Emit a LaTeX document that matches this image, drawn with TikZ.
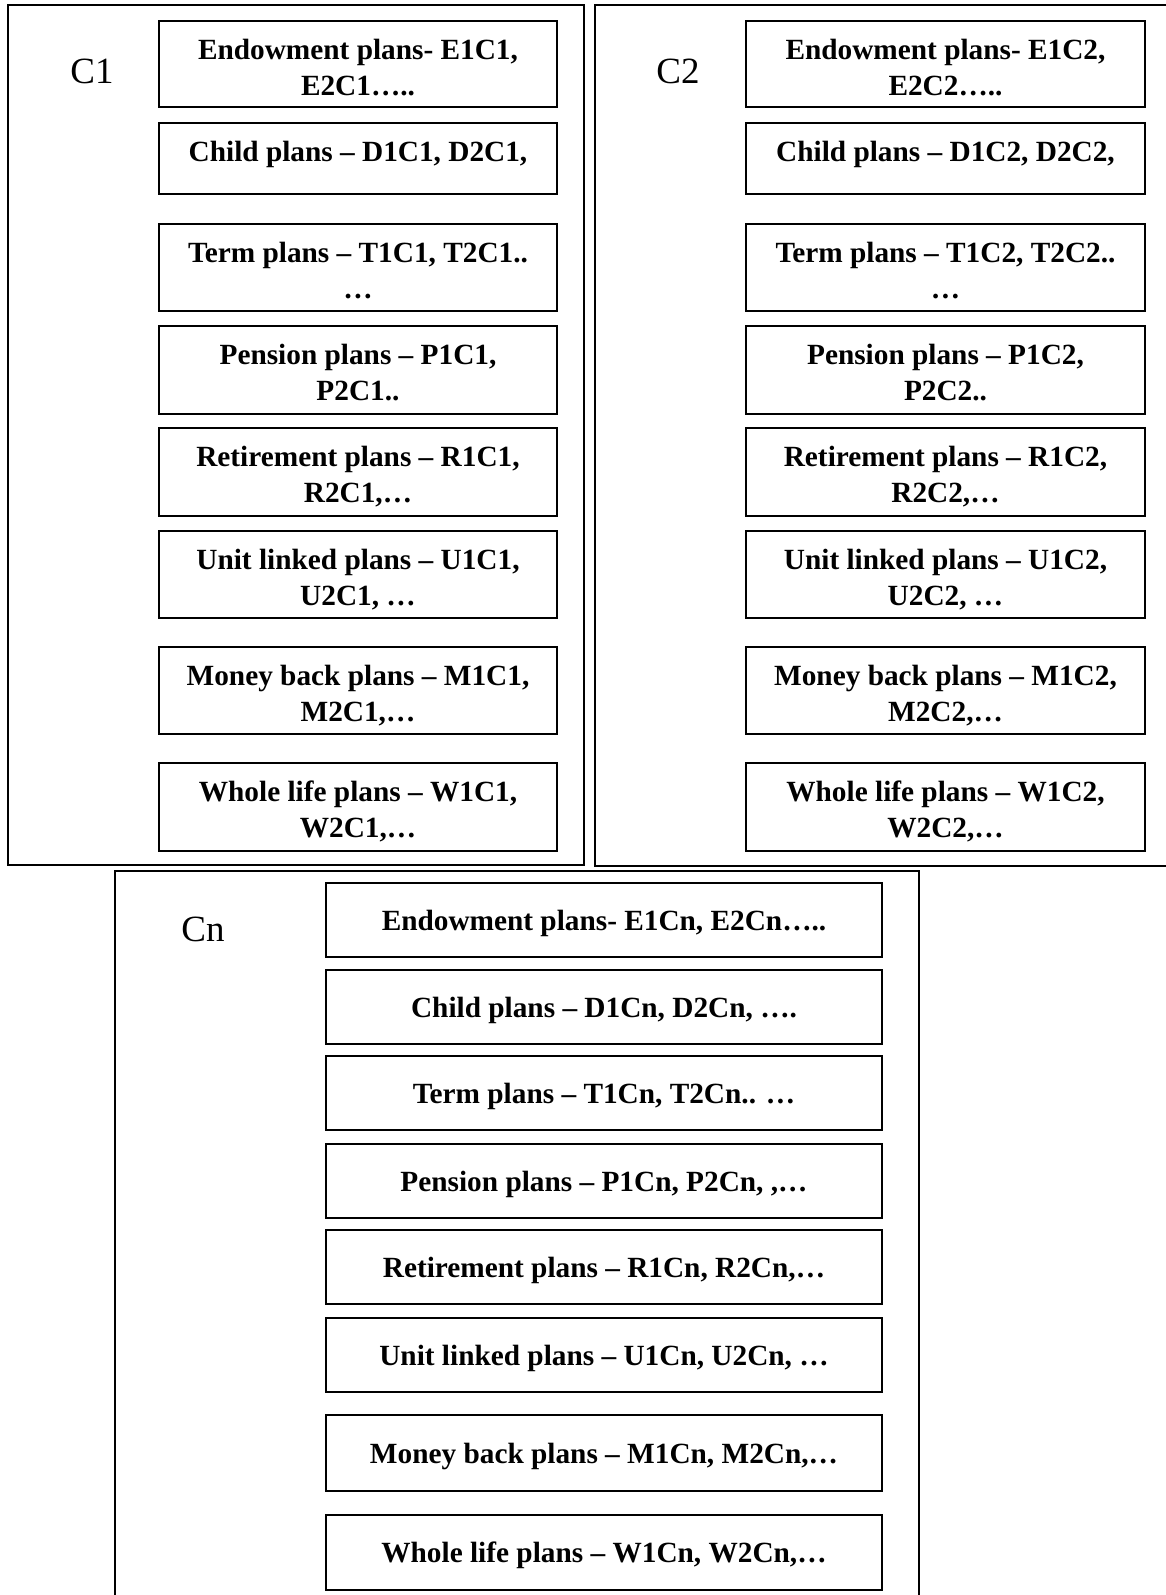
\documentclass[tikz,border=0pt]{standalone}
\usepackage{fontspec}
\setmainfont{Liberation Serif}
\usetikzlibrary{fit}
\tikzset{
  outerbox/.style={draw, line width=0.9pt, inner sep=0pt},
  planbox/.style={draw, line width=1pt, inner sep=0pt},
  plantext/.style={font=\fontsize{14.65pt}{18pt}\selectfont\bfseries, align=center, inner sep=0pt},
  grouplabel/.style={font=\fontsize{18.5pt}{22pt}\selectfont, inner sep=0pt}
}
% box with top-aligned text (C1, C2 columns)
\newcommand\pbx[6]{%
  \node[planbox, fit={(#2,#3) (#4,#5)}] (#1) {};
  \node[plantext, anchor=north] (#1t) at ([yshift=-9.4pt]#1.north) {#6};}
% box with centred single-line text (Cn column)
\newcommand\pbn[6]{%
  \node[planbox, fit={(#2,#3) (#4,#5)}] (#1) {};
  \node[plantext, anchor=base] (#1t) at ([yshift=-5pt]#1.center) {#6};}
\begin{document}
\begin{tikzpicture}[x=0.5pt,y=-0.5pt]
\useasboundingbox (0,0) rectangle (1166,1595);
\clip (0,0) rectangle (1166,1595);
% outer group boxes
\node[outerbox, fit={(8,5) (584,865)}] (G1) {};
\node[outerbox, fit={(595,5) (1180,866)}] (G2) {};
\node[outerbox, fit={(115,871) (919,1610)}] (Gn) {};
% labels
\node[grouplabel] (L1) at (92,71) {C1};
\node[grouplabel] (L2) at (678,71) {C2};
\node[grouplabel] (Ln) at (203,929) {Cn};
% C1 column
\pbx{a1}{159}{21}{557}{107}{Endowment plans- E1C1,\\E2C1…..}
\pbx{a2}{159}{123}{557}{194}{Child plans – D1C1, D2C1,}
\pbx{a3}{159}{224}{557}{311}{Term plans – T1C1, T2C1..\\…}
\pbx{a4}{159}{326}{557}{414}{Pension plans – P1C1,\\P2C1..}
\pbx{a5}{159}{428}{557}{516}{Retirement plans – R1C1,\\R2C1,…}
\pbx{a6}{159}{531}{557}{618}{Unit linked plans – U1C1,\\U2C1, …}
\pbx{a7}{159}{647}{557}{734}{Money back plans – M1C1,\\M2C1,…}
\pbx{a8}{159}{763}{557}{851}{Whole life plans – W1C1,\\W2C1,…}
% C2 column
\pbx{b1}{746}{21}{1145}{107}{Endowment plans- E1C2,\\E2C2…..}
\pbx{b2}{746}{123}{1145}{194}{Child plans – D1C2, D2C2,}
\pbx{b3}{746}{224}{1145}{311}{Term plans – T1C2, T2C2..\\…}
\pbx{b4}{746}{326}{1145}{414}{Pension plans – P1C2,\\P2C2..}
\pbx{b5}{746}{428}{1145}{516}{Retirement plans – R1C2,\\R2C2,…}
\pbx{b6}{746}{531}{1145}{618}{Unit linked plans – U1C2,\\U2C2, …}
\pbx{b7}{746}{647}{1145}{734}{Money back plans – M1C2,\\M2C2,…}
\pbx{b8}{746}{763}{1145}{851}{Whole life plans – W1C2,\\W2C2,…}
% Cn column
\pbn{n1}{326}{883}{882}{957}{Endowment plans- E1Cn, E2Cn…..}
\pbn{n2}{326}{970}{882}{1044}{Child plans – D1Cn, D2Cn, ….}
\pbn{n3}{326}{1056}{882}{1130}{Term plans – T1Cn, T2Cn.. …}
\pbn{n4}{326}{1144}{882}{1218}{Pension plans – P1Cn, P2Cn, ,…}
\pbn{n5}{326}{1230}{882}{1304}{Retirement plans – R1Cn, R2Cn,…}
\pbn{n6}{326}{1318}{882}{1392}{Unit linked plans – U1Cn, U2Cn, …}
\pbn{n7}{326}{1415}{882}{1491}{Money back plans – M1Cn, M2Cn,…}
\pbn{n8}{326}{1515}{882}{1590}{Whole life plans – W1Cn, W2Cn,…}
\end{tikzpicture}
\end{document}
